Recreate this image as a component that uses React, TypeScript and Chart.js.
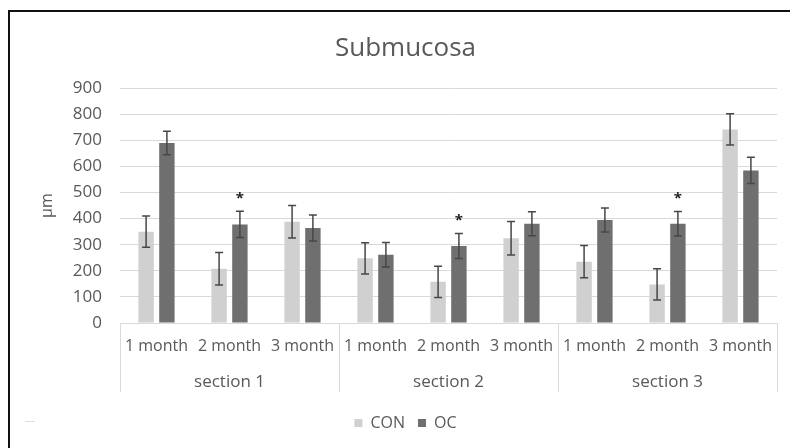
import React, { useEffect, useRef } from "react";
import { Chart, registerables } from "chart.js";

Chart.register(...registerables);

const months = ["1 month", "2 month", "3 month"];
const sections = ["section 1", "section 2", "section 3"];
const seriesNames = ["CON", "OC"];
const conValues = [350, 208, 388, 248, 158, 325, 235, 148, 742];
const conErrors = [60, 62, 62, 60, 60, 64, 62, 60, 60];
const ocValues = [690, 378, 364, 262, 295, 380, 395, 380, 585];
const ocErrors = [45, 50, 50, 47, 48, 46, 46, 47, 50];
const ocSignificant = [false, true, false, false, true, false, false, true, false];
const yTicks = [0, 100, 200, 300, 400, 500, 600, 700, 800, 900];

const FONT = "'Open Sans', 'Liberation Sans', sans-serif";
const TEXT = "#595959";

const categories: string[] = [];
sections.forEach(() => months.forEach((m) => categories.push(m)));

const errorsByDataset = [conErrors, ocErrors];
const sigByDataset = [null, ocSignificant];

const errorBarPlugin = {
  id: "errorBars",
  afterDatasetsDraw(chart: any) {
    const ctx = chart.ctx;
    const y = chart.scales.y;
    ctx.save();
    chart.data.datasets.forEach((ds: any, di: number) => {
      const meta = chart.getDatasetMeta(di);
      const errs = errorsByDataset[di];
      const sig = sigByDataset[di];
      meta.data.forEach((el: any, i: number) => {
        const v = ds.data[i];
        const e = errs[i];
        const top = y.getPixelForValue(v + e);
        const bot = y.getPixelForValue(v - e);
        const x = el.x;
        ctx.strokeStyle = "#474747";
        ctx.lineWidth = 1.5;
        ctx.beginPath();
        ctx.moveTo(x, top);
        ctx.lineTo(x, bot);
        ctx.moveTo(x - 4, top);
        ctx.lineTo(x + 4, top);
        ctx.moveTo(x - 4, bot);
        ctx.lineTo(x + 4, bot);
        ctx.stroke();
        if (sig && sig[i]) {
          ctx.fillStyle = "#222";
          ctx.font = `bold 15px ${FONT}`;
          ctx.textAlign = "center";
          ctx.textBaseline = "middle";
          ctx.fillText("*", x, top - 13);
        }
      });
    });
    ctx.restore();
  },
};

const sectionAxisPlugin = {
  id: "sectionAxis",
  afterDraw(chart: any) {
    const ctx = chart.ctx;
    const x = chart.scales.x;
    const area = chart.chartArea;
    const bottom = area.bottom + 69;
    const n = months.length;
    const bounds: number[] = [x.left];
    for (let s = 1; s < sections.length; s++) {
      const a = x.getPixelForValue(s * n - 1);
      const b = x.getPixelForValue(s * n);
      bounds.push((a + b) / 2);
    }
    bounds.push(x.right);
    ctx.save();
    ctx.strokeStyle = "#d9d9d9";
    ctx.lineWidth = 1;
    bounds.forEach((bx) => {
      const px = Math.round(bx) + 0.5;
      ctx.beginPath();
      ctx.moveTo(px, area.bottom);
      ctx.lineTo(px, bottom);
      ctx.stroke();
    });
    ctx.fillStyle = TEXT;
    ctx.font = `17px ${FONT}`;
    ctx.textAlign = "center";
    ctx.textBaseline = "middle";
    sections.forEach((s, i) => {
      ctx.fillText(s, (bounds[i] + bounds[i + 1]) / 2, area.bottom + 59);
    });
    ctx.restore();
  },
};

export default function App() {
  const ref = useRef<HTMLCanvasElement | null>(null);
  useEffect(() => {
    if (!ref.current) return;
    const chart = new Chart(ref.current, {
      type: "bar",
      data: {
        labels: categories,
        datasets: [
          {
            label: seriesNames[0],
            data: conValues,
            backgroundColor: "#d0d0d0",
            categoryPercentage: 0.57,
            barPercentage: 0.74,
          },
          {
            label: seriesNames[1],
            data: ocValues,
            backgroundColor: "#6f6f6f",
            categoryPercentage: 0.57,
            barPercentage: 0.74,
          },
        ],
      },
      options: {
        animation: false,
        responsive: false,
        maintainAspectRatio: false,
        layout: { padding: { left: 34, right: 13, top: 0, bottom: 7 } },
        plugins: {
          title: {
            display: true,
            text: "Submucosa",
            color: TEXT,
            font: { family: FONT, size: 26, weight: "normal" },
            padding: { top: 33, bottom: 24 },
          },
          legend: {
            position: "bottom",
            labels: {
              boxWidth: 8,
              boxHeight: 8,
              color: TEXT,
              font: { family: FONT, size: 16 },
              padding: 13,
            },
          },
          tooltip: { enabled: false },
        },
        scales: {
          x: {
            grid: { display: false, drawTicks: false },
            border: { display: false },
            ticks: {
              color: TEXT,
              font: { family: FONT, size: 16 },
              autoSkip: false,
              maxRotation: 0,
              minRotation: 0,
              padding: 14,
            },
            afterFit: (s: any) => {
              s.height = 79;
            },
          },
          y: {
            min: 0,
            max: 900,
            afterBuildTicks: (s: any) => {
              s.ticks = yTicks.map((v) => ({ value: v }));
            },
            grid: { color: "#d9d9d9", drawTicks: false },
            border: { display: false },
            ticks: {
              color: TEXT,
              font: { family: FONT, size: 17 },
              padding: 18,
            },
            title: {
              display: true,
              text: "µm",
              color: TEXT,
              font: { family: FONT, size: 16 },
            },
            afterFit: (s: any) => {
              s.width = 86;
            },
          },
        },
      },
      plugins: [errorBarPlugin, sectionAxisPlugin],
    });
    return () => chart.destroy();
  }, []);
  return (
    <div style={{ position: "fixed", left: 0, top: 0, width: 790, height: 448, background: "#fff" }}>
      <div
        style={{
          position: "absolute",
          left: 8,
          top: 10,
          right: 0,
          bottom: 0,
          borderTop: "2px solid #111",
          borderLeft: "2px solid #111",
        }}
      />
      <div style={{ position: "absolute", left: 25, top: 421, width: 10, height: 1, background: "#ddd" }} />
      <canvas ref={ref} width={790} height={448} style={{ position: "absolute", left: 0, top: 0 }} />
    </div>
  );
}
